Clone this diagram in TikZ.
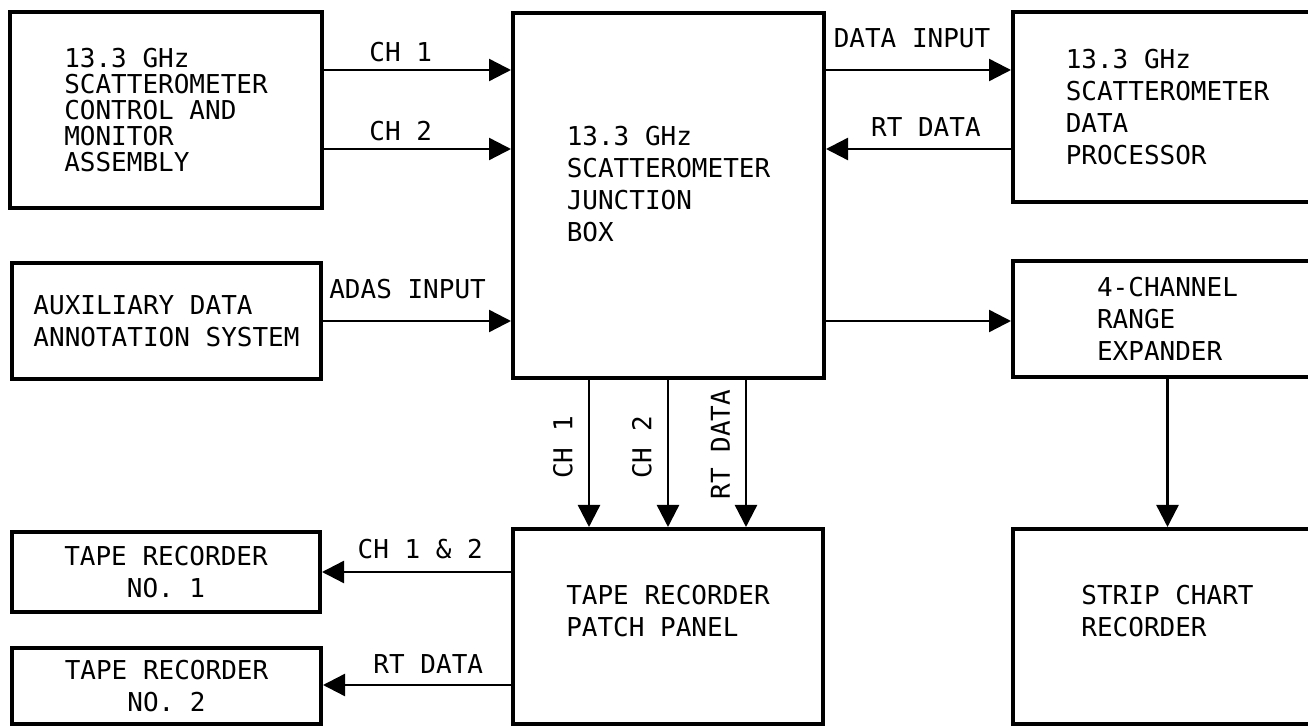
\documentclass[tikz,border=0pt]{standalone}
\usepackage{fontspec}
\setmainfont{DejaVu Sans Mono}
\usepackage{tikz}
\usetikzlibrary{arrows.meta, positioning}

\begin{document}
\begin{tikzpicture}[x=0.5pt, y=-0.5pt,
    blk/.style={rectangle, draw=black, line width=2pt, inner sep=0pt, font=\fontsize{13}{16}\selectfont},
    arrow/.style={draw=black, line width=1.2pt, -{Triangle[length=11pt, width=11pt]}},
    lbl/.style={inner sep=0pt, font=\fontsize{13}{16}\selectfont},
    vlbl/.style={lbl, rotate=90, anchor=south, inner ysep=7.5pt}]

    \useasboundingbox (0,0) rectangle (1308,726);
    \clip (0,0) rectangle (1308,726);

    % units
    \node [blk, minimum width=156pt, minimum height=98pt, align=left, font=\fontsize{13}{13}\selectfont] (cma) at (166,110) {13.3 GHz\\SCATTEROMETER\\CONTROL AND\\MONITOR\\ASSEMBLY};
    \node [blk, minimum width=155.5pt, minimum height=182.5pt, align=left] (jbox) at (668.5,195.5) {13.3 GHz\\SCATTEROMETER\\JUNCTION\\BOX\\[-4pt]\mbox{}};
    \node [blk, minimum width=154.5pt, minimum height=95pt, align=left] (proc) at (1167.5,107) {13.3 GHz\\SCATTEROMETER\\DATA\\PROCESSOR};
    \node [blk, minimum width=154.5pt, minimum height=58pt, align=left] (adas) at (166.5,321) {AUXILIARY DATA\\ANNOTATION SYSTEM};
    \node [blk, minimum width=154.5pt, minimum height=58pt, align=left] (rexp) at (1167.5,319) {4-CHANNEL\\RANGE\\EXPANDER};
    \node [blk, minimum width=155pt, minimum height=97.5pt, align=left] (patch) at (668,626.5) {TAPE RECORDER\\PATCH PANEL\\\mbox{}};
    \node [blk, minimum width=154.5pt, minimum height=97.5pt, align=left] (strip) at (1167.5,626.5) {STRIP CHART\\RECORDER\\\mbox{}};
    \node [blk, minimum width=154pt, minimum height=40pt, align=center] (tape1) at (166,572) {TAPE RECORDER\\NO. 1};
    \node [blk, minimum width=154.5pt, minimum height=38pt, align=center] (tape2) at (166.5,686) {TAPE RECORDER\\NO. 2};

    % signal levels
    \coordinate (ych1) at (0,70);
    \coordinate (ych2) at (0,149);
    \coordinate (yadas) at (0,321);
    \coordinate (ytr1) at (0,572);
    \coordinate (ytr2) at (0,685);
    \coordinate (xch1) at (589,0);
    \coordinate (xch2) at (668,0);
    \coordinate (xrt) at (746,0);

    \draw [arrow] (cma.east |- ych1) -- node [lbl, above=3.5pt, pos=0.41] (lch1) {CH 1} (jbox.west |- ych1);
    \draw [arrow] (cma.east |- ych2) -- node [lbl, above=3.5pt, pos=0.41] (lch2) {CH 2} (jbox.west |- ych2);
    \draw [arrow] (jbox.east |- ych1) -- node [lbl, above=10.5pt, pos=0.465] (ldata) {DATA INPUT} (proc.west |- ych1);
    \draw [arrow] (proc.west |- ych2) -- node [lbl, above=5.5pt, pos=0.46] (lrt) {RT DATA} (jbox.east |- ych2);
    \draw [arrow] (adas.east |- yadas) -- node [lbl, above=10.5pt, pos=0.45] (ladas) {ADAS INPUT} (jbox.west |- yadas);
    \draw [arrow] (jbox.east |- yadas) -- (rexp.west |- yadas);
    \draw [arrow] (rexp.south) -- (strip.north);

    \draw [arrow] (jbox.south -| xch1) -- node [vlbl, pos=0.46] (lvch1) {CH 1} (patch.north -| xch1);
    \draw [arrow] (jbox.south -| xch2) -- node [vlbl, pos=0.46] (lvch2) {CH 2} (patch.north -| xch2);
    \draw [arrow] (jbox.south -| xrt) -- node [vlbl, pos=0.44] (lvrt) {RT DATA} (patch.north -| xrt);

    \draw [arrow] (patch.west |- ytr1) -- node [lbl, above=6pt, pos=0.48] (ltr1) {CH 1 \& 2} (tape1.east |- ytr1);
    \draw [arrow] (patch.west |- ytr2) -- node [lbl, above=5pt, pos=0.44] (ltr2) {RT DATA} (tape2.east |- ytr2);

\end{tikzpicture}
\end{document}
